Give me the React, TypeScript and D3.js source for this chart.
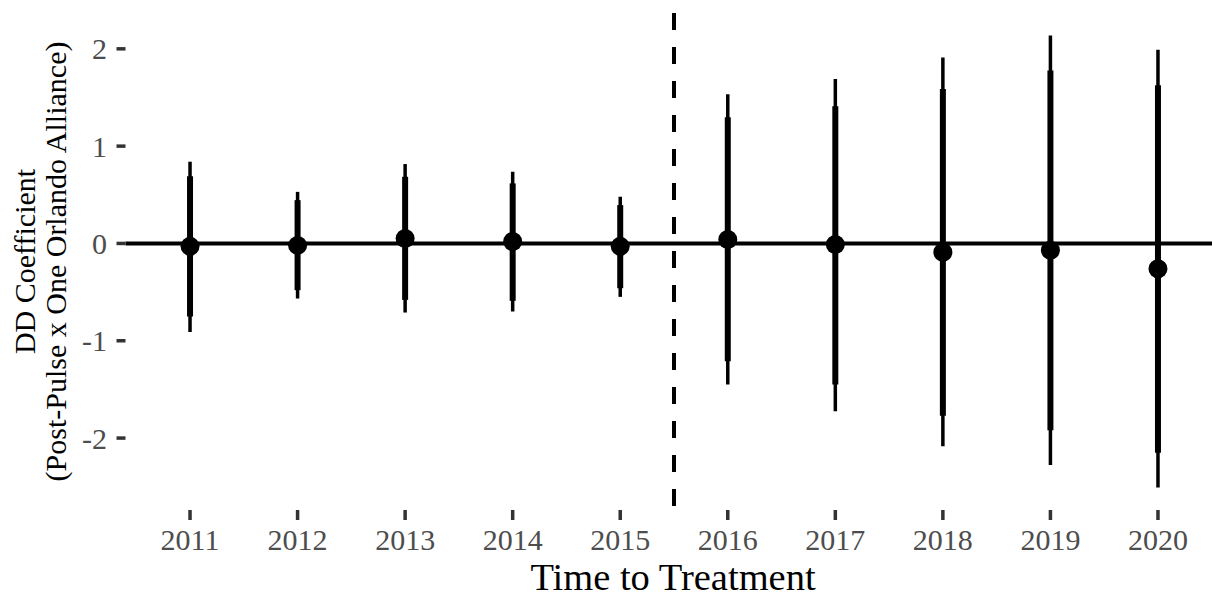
import React from "react";
import * as d3 from "d3";

const years = ["2011", "2012", "2013", "2014", "2015", "2016", "2017", "2018", "2019", "2020"];
const estimate = [-0.03, -0.02, 0.05, 0.02, -0.03, 0.04, -0.01, -0.09, -0.07, -0.26];
const innerLow = [-0.75, -0.48, -0.58, -0.59, -0.46, -1.21, -1.45, -1.77, -1.92, -2.15];
const innerHigh = [0.69, 0.445, 0.685, 0.617, 0.394, 1.296, 1.41, 1.587, 1.776, 1.625];
const outerLow = [-0.91, -0.566, -0.71, -0.7, -0.549, -1.45, -1.725, -2.085, -2.278, -2.507];
const outerHigh = [0.84, 0.53, 0.816, 0.737, 0.48, 1.533, 1.69, 1.91, 2.136, 1.99];
const yTicks = [-2, -1, 0, 1, 2];
const treatmentAt = 5.5; // between 2015 and 2016

const W = 1212;
const H = 594;
const FONT = "'Liberation Serif', 'Times New Roman', Times, serif";

export default function App() {
  const panel = { left: 125.5, right: 1222.5, top: 13, bottom: 510 };
  const x = d3.scaleLinear().domain([0.4, years.length + 0.6]).range([panel.left, panel.right]);
  const lo = d3.min(outerLow) as number;
  const hi = d3.max(outerHigh) as number;
  const pad = (hi - lo) * 0.05;
  const y = d3.scaleLinear().domain([lo - pad, hi + pad]).range([panel.bottom, panel.top]);
  const midY = (panel.top + panel.bottom) / 2;

  return (
    <div style={{ position: "fixed", left: 0, top: 0, width: W, height: H, background: "#fff" }}>
      <svg width={W} height={H} style={{ display: "block" }} fontFamily={FONT}>
        <rect x={0} y={0} width={W} height={H} fill="#fff" />
        {/* zero line */}
        <line x1={panel.left} x2={W} y1={y(0)} y2={y(0)} stroke="#000" strokeWidth={4} />
        {/* treatment line */}
        <line
          x1={x(treatmentAt)}
          x2={x(treatmentAt)}
          y1={panel.top}
          y2={panel.bottom}
          stroke="#000"
          strokeWidth={4}
          strokeDasharray="17,17"
        />
        {years.map((yr, i) => (
          <g key={yr}>
            <line x1={x(i + 1)} x2={x(i + 1)} y1={y(outerLow[i])} y2={y(outerHigh[i])} stroke="#000" strokeWidth={3.5} />
            <line x1={x(i + 1)} x2={x(i + 1)} y1={y(innerLow[i])} y2={y(innerHigh[i])} stroke="#000" strokeWidth={6} />
            <circle cx={x(i + 1)} cy={y(estimate[i])} r={9.5} fill="#000" />
          </g>
        ))}
        {/* y axis ticks */}
        {yTicks.map((t) => (
          <g key={t}>
            <line x1={panel.left - 9} x2={panel.left} y1={y(t)} y2={y(t)} stroke="#333" strokeWidth={3.5} />
            <text x={panel.left - 18.5} y={y(t)} dy="0.35em" textAnchor="end" fontSize={30} fill="#4d4d4d">
              {t < 0 ? "-" + Math.abs(t) : String(t)}
            </text>
          </g>
        ))}
        {/* x axis ticks */}
        {years.map((yr, i) => (
          <g key={"xt" + yr}>
            <line x1={x(i + 1)} x2={x(i + 1)} y1={panel.bottom} y2={panel.bottom + 10} stroke="#333" strokeWidth={3.5} />
            <text x={x(i + 1)} y={550} textAnchor="middle" fontSize={30} fill="#4d4d4d">
              {yr}
            </text>
          </g>
        ))}
        {/* axis titles */}
        <text x={(panel.left + panel.right) / 2 - 1} y={590} textAnchor="middle" fontSize={38.5} fill="#000">
          Time to Treatment
        </text>
        <text transform={`translate(35,${midY}) rotate(-90)`} textAnchor="middle" fontSize={30} fill="#000">
          DD Coefficient
        </text>
        <text transform={`translate(66,${midY}) rotate(-90)`} textAnchor="middle" fontSize={30} fill="#000">
          (Post-Pulse x One Orlando Alliance)
        </text>
      </svg>
    </div>
  );
}
